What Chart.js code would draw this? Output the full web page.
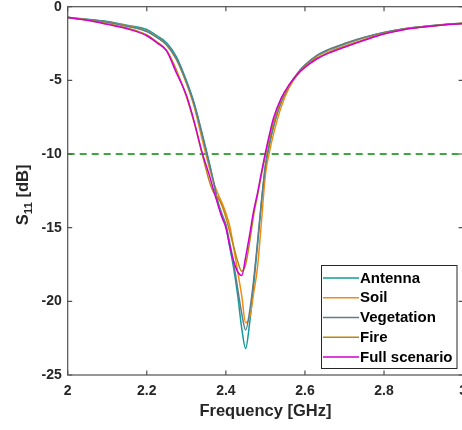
<!DOCTYPE html>
<html>
<head>
<meta charset="utf-8">
<script src="https://cdn.jsdelivr.net/npm/chart.js@4/dist/chart.umd.min.js"></script>
<style>
  html, body { margin: 0; padding: 0; background: #fff; overflow: hidden; width: 462px; height: 430px; }
  #wrap { width: 470px; height: 430px; }
</style>
</head>
<body>
<div id="wrap"><canvas id="c" width="470" height="430"></canvas></div>
<script>
// Reflection coefficient S11 (dB) versus frequency (GHz) for each scenario
const freqGHz = [2.00, 2.05, 2.10, 2.15, 2.20, 2.225, 2.25, 2.275, 2.30, 2.32, 2.34, 2.36, 2.37, 2.38, 2.39, 2.40,
                 2.41, 2.42, 2.43, 2.44, 2.45, 2.46, 2.47, 2.48, 2.49, 2.50, 2.51, 2.52, 2.54, 2.56, 2.58, 2.60,
                 2.63, 2.66, 2.70, 2.75, 2.80, 2.85, 2.90, 2.95, 3.00];

const antenna = [-0.72, -0.85, -1.00, -1.25, -1.55, -1.97, -2.44, -3.40, -5.00, -6.55, -8.60, -10.80, -12.05, -13.30, -14.15, -14.85,
                 -16.35, -17.80, -19.60, -21.80, -23.20, -21.50, -19.00, -16.20, -13.30, -10.80, -9.40, -8.20, -6.45, -5.40, -4.60, -4.00,
                 -3.35, -2.95, -2.55, -2.10, -1.75, -1.52, -1.35, -1.22, -1.12];

const soil = [-0.74, -0.88, -1.05, -1.30, -1.66, -2.05, -2.60, -3.60, -5.20, -6.80, -9.00, -11.10, -12.00, -12.70, -13.30, -14.00,
              -14.90, -16.40, -18.00, -19.60, -21.45, -21.10, -19.50, -17.70, -14.60, -11.40, -9.90, -8.70, -6.80, -5.50, -4.65, -4.02,
              -3.35, -2.93, -2.52, -2.10, -1.76, -1.51, -1.35, -1.22, -1.12];

const vegetation = [-0.74, -0.88, -1.05, -1.32, -1.68, -2.08, -2.58, -3.55, -5.10, -6.65, -8.70, -10.90, -12.00, -13.25, -14.05, -14.80,
                    -16.05, -17.45, -19.15, -20.80, -21.95, -20.70, -18.60, -16.00, -13.20, -10.80, -9.30, -8.15, -6.45, -5.35, -4.55, -3.95,
                    -3.30, -2.90, -2.50, -2.08, -1.75, -1.50, -1.34, -1.21, -1.12];

const fire = [-0.74, -0.90, -1.15, -1.45, -1.92, -2.38, -2.95, -4.30, -6.10, -7.90, -10.00, -12.00, -12.65, -12.95, -13.50, -14.30,
              -15.30, -16.30, -17.30, -17.95, -17.50, -16.00, -14.20, -12.80, -11.40, -10.10, -8.90, -7.90, -6.30, -5.35, -4.62, -4.08,
              -3.48, -3.08, -2.68, -2.22, -1.82, -1.54, -1.37, -1.23, -1.13];

const fullScenario = [-0.74, -0.92, -1.20, -1.50, -1.97, -2.44, -3.00, -4.50, -6.00, -7.80, -9.90, -11.60, -12.55, -13.45, -14.30, -15.00,
                      -16.25, -17.30, -18.00, -18.25, -17.00, -15.50, -13.90, -12.65, -11.25, -9.90, -8.70, -7.60, -6.20, -5.30, -4.62, -4.12,
                      -3.55, -3.15, -2.75, -2.28, -1.85, -1.56, -1.38, -1.24, -1.14];

const seriesNames = ['Antenna', 'Soil', 'Vegetation', 'Fire', 'Full scenario'];
const seriesColors = ['#139a9a', '#f08c10', '#5f7e8d', '#b8870f', '#d000d0'];
const xTickValues = [2, 2.2, 2.4, 2.6, 2.8, 3];
const yTickValues = [-25, -20, -15, -10, -5, 0];
const thresholdDb = -10;

const FONT = '"Liberation Sans", Arial, Helvetica, sans-serif';
const seriesValues = [antenna, soil, vegetation, fire, fullScenario];

const datasets = seriesNames.map((name, i) => ({
  label: name,
  data: freqGHz.map((f, k) => ({ x: f, y: seriesValues[i][k] })),
  borderColor: seriesColors[i],
  backgroundColor: seriesColors[i],
  borderWidth: 1.5,
  pointRadius: 0,
  fill: false,
  cubicInterpolationMode: 'monotone',
  order: seriesNames.length - i
}));

// -10 dB matching threshold
datasets.push({
  label: 'threshold',
  isReference: true,
  data: [{ x: xTickValues[0], y: thresholdDb }, { x: xTickValues[xTickValues.length - 1], y: thresholdDb }],
  borderColor: '#008a00',
  borderWidth: 1.4,
  borderDash: [7, 5],
  pointRadius: 0,
  fill: false,
  order: 10
});

// Axes box with inward tick marks on all four sides
const axesBox = {
  id: 'axesBox',
  afterDatasetsDraw(chart) {
    const { ctx, chartArea: a, scales: { x, y } } = chart;
    ctx.save();
    ctx.strokeStyle = '#505050';
    ctx.lineWidth = 1.2;
    ctx.strokeRect(a.left, a.top, a.right - a.left, a.bottom - a.top);
    ctx.beginPath();
    const len = 4.5;
    xTickValues.forEach(v => {
      const px = x.getPixelForValue(v);
      ctx.moveTo(px, a.bottom); ctx.lineTo(px, a.bottom - len);
      ctx.moveTo(px, a.top); ctx.lineTo(px, a.top + len);
    });
    yTickValues.forEach(v => {
      const py = y.getPixelForValue(v);
      ctx.moveTo(a.left, py); ctx.lineTo(a.left + len, py);
      ctx.moveTo(a.right, py); ctx.lineTo(a.right - len, py);
    });
    ctx.stroke();
    ctx.restore();
  }
};

// Legend box inside the lower right of the plot
const insideLegend = {
  id: 'insideLegend',
  afterDraw(chart) {
    const { ctx } = chart;
    const items = chart.data.datasets.filter(d => !d.isReference);
    const box = { x: 321.5, y: 265.5, w: 135.5, h: 103 };
    ctx.save();
    ctx.fillStyle = '#ffffff';
    ctx.fillRect(box.x, box.y, box.w, box.h);
    ctx.strokeStyle = '#262626';
    ctx.lineWidth = 1;
    ctx.strokeRect(box.x, box.y, box.w, box.h);
    ctx.font = 'bold 15px ' + FONT;
    ctx.textBaseline = 'middle';
    ctx.textAlign = 'left';
    items.forEach((d, i) => {
      const yy = 278 + i * 19.75;
      ctx.strokeStyle = d.borderColor;
      ctx.lineWidth = 1.5;
      ctx.beginPath();
      ctx.moveTo(323, yy); ctx.lineTo(359, yy);
      ctx.stroke();
      ctx.fillStyle = '#000000';
      ctx.fillText(d.label, 360, yy + 0.5);
    });
    ctx.restore();
  }
};

// Vertical axis title with a subscript
const yAxisTitle = {
  id: 'yAxisTitle',
  afterDraw(chart) {
    const { ctx, chartArea: a } = chart;
    const big = 'bold 16.5px ' + FONT;
    const small = 'bold 11.5px ' + FONT;
    ctx.save();
    ctx.fillStyle = '#262626';
    ctx.translate(22, (a.top + a.bottom) / 2 + 4);
    ctx.rotate(-Math.PI / 2);
    ctx.textBaseline = 'alphabetic';
    ctx.textAlign = 'left';
    ctx.font = big;  const w1 = ctx.measureText('S').width;
    ctx.font = small; const w2 = ctx.measureText('11').width;
    ctx.font = big;  const w3 = ctx.measureText(' [dB]').width;
    let cx = -(w1 + w2 + w3) / 2;
    ctx.font = big;  ctx.fillText('S', cx, 6); cx += w1;
    ctx.font = small; ctx.fillText('11', cx, 10); cx += w2;
    ctx.font = big;  ctx.fillText(' [dB]', cx, 6);
    ctx.restore();
  }
};

const PLOT_LEFT = 67.7, PLOT_TOP = 6.7, PLOT_BOTTOM = 375, PLOT_RIGHT = 463.1;
const W = 470, H = 430;

new Chart(document.getElementById('c'), {
  type: 'line',
  data: { datasets },
  options: {
    responsive: false,
    animation: false,
    devicePixelRatio: 1,
    layout: { padding: { left: 0, top: PLOT_TOP, right: W - PLOT_RIGHT, bottom: 0 } },
    plugins: { legend: { display: false }, tooltip: { enabled: false } },
    scales: {
      x: {
        type: 'linear',
        min: xTickValues[0],
        max: xTickValues[xTickValues.length - 1],
        grid: { display: false, drawTicks: false },
        border: { display: false },
        afterBuildTicks: s => { s.ticks = xTickValues.map(v => ({ value: v })); },
        afterFit: s => { s.height = H - PLOT_BOTTOM; s.paddingLeft = 0; s.paddingRight = 0; },
        ticks: {
          padding: 8,
          color: '#262626',
          font: { family: FONT, size: 14, weight: 'bold' },
          maxRotation: 0,
          callback: v => String(parseFloat(v.toFixed(1)))
        },
        title: {
          display: true,
          text: 'Frequency [GHz]',
          color: '#262626',
          font: { family: FONT, size: 16.5, weight: 'bold' },
          padding: { top: 0, bottom: 9 }
        }
      },
      y: {
        type: 'linear',
        min: yTickValues[0],
        max: yTickValues[yTickValues.length - 1],
        grid: { display: false, drawTicks: false },
        border: { display: false },
        afterBuildTicks: s => { s.ticks = yTickValues.map(v => ({ value: v })); },
        afterFit: s => { s.width = PLOT_LEFT; s.paddingTop = 0; s.paddingBottom = 0; },
        ticks: {
          padding: 6,
          color: '#262626',
          font: { family: FONT, size: 14, weight: 'bold' },
          callback: v => String(v)
        }
      }
    }
  },
  plugins: [axesBox, insideLegend, yAxisTitle]
});
</script>
</body>
</html>
